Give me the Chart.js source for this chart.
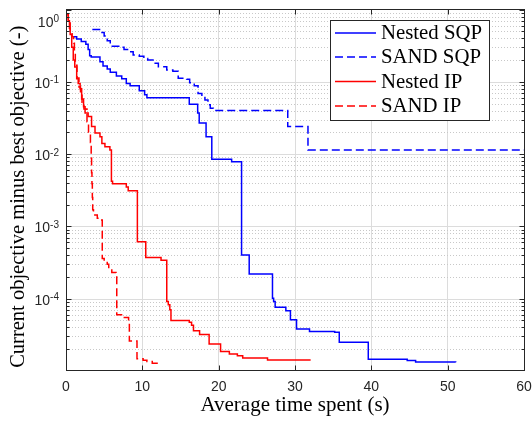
<!DOCTYPE html>
<html>
<head>
<meta charset="utf-8">
<script src="https://cdn.jsdelivr.net/npm/chart.js@4.4.0/dist/chart.umd.min.js"></script>
<style>
  body { margin: 0; background: #fff; }
  #wrap { width: 532px; height: 423px; }
</style>
</head>
<body>
<div id="wrap"><canvas id="chart" width="532" height="423"></canvas></div>
<script>
// convergence histories: time at which each new level is reached, and the level
const nestedSqpTime = [1.05, 1.4, 2.0, 2.6, 2.9, 3.1, 3.3, 4.45, 4.85, 5.4, 5.8, 6.6, 7.3, 7.9, 8.4, 9.6, 10.3, 10.6,
  16.15, 17.25, 17.45, 18.35, 19.1, 21.7, 23.0, 24.0, 27.05, 27.2, 27.4, 28.8, 29.4, 30.2, 31.9, 35.2, 35.8, 39.6,
  44.7, 45.8, 51.05];
const nestedSqpVal = [0.42, 0.39, 0.36, 0.33, 0.28, 0.23, 0.22, 0.19, 0.165, 0.15, 0.136, 0.12, 0.11, 0.095, 0.088,
  0.075, 0.066, 0.06, 0.049, 0.037, 0.027, 0.0174, 0.0085, 0.0078, 4.0e-4, 2.2e-4, 1.01e-4, 9.1e-5, 7.6e-5, 6.8e-5,
  5.1e-5, 3.8e-5, 3.5e-5, 3.42e-5, 2.5e-5, 1.45e-5, 1.39e-5, 1.33e-5, 1.32e-5];

const sandSqpTime = [3.45, 4.4, 5.0, 5.4, 5.8, 7.1, 7.6, 8.3, 8.8, 9.6, 10.2, 10.7, 11.4, 12.1, 13.2, 14.0, 14.7,
  15.8, 16.2, 16.8, 17.3, 17.8, 18.2, 18.6, 18.9, 19.3, 29.05, 31.7, 60];
const sandSqpVal = [0.53, 0.48, 0.43, 0.37, 0.31, 0.3, 0.28, 0.26, 0.235, 0.225, 0.21, 0.2, 0.18, 0.162, 0.146, 0.14,
  0.112, 0.108, 0.097, 0.088, 0.069, 0.062, 0.056, 0.048, 0.043, 0.04, 0.024, 0.0114, 0.0114];

const nestedIpTime = [0.1, 0.3, 0.45, 0.55, 0.75, 0.95, 1.15, 1.4, 1.6, 1.85, 2.05, 2.3, 2.5, 2.9, 3.35, 3.8, 4.45,
  4.7, 5.1, 5.75, 5.95, 6.1, 7.9, 8.15, 9.35, 10.45, 12.45, 13.2, 13.4, 13.6, 13.75, 16.15, 16.45, 16.7, 17.5, 18.75,
  20.25, 21.4, 22.45, 23.15, 26.4, 32.05];
const nestedIpVal = [0.85, 0.7, 0.55, 0.45, 0.3, 0.2, 0.16, 0.11, 0.095, 0.08, 0.058, 0.045, 0.037, 0.033, 0.024,
  0.0195, 0.0174, 0.014, 0.0126, 0.0114, 0.0042, 0.0039, 0.0035, 0.0031, 6.1e-4, 3.7e-4, 3.4e-4, 9.1e-5, 8.2e-5,
  7.0e-5, 5.0e-5, 4.7e-5, 4.3e-5, 3.6e-5, 3.2e-5, 2.36e-5, 1.85e-5, 1.72e-5, 1.62e-5, 1.51e-5, 1.42e-5, 1.42e-5];

const sandIpTime = [0.05, 0.3, 0.55, 0.8, 1.0, 1.1, 1.22, 1.44, 1.7, 1.9, 2.1, 2.35, 2.75, 2.95, 3.2, 3.3, 3.35, 3.4,
  3.45, 3.5, 3.6, 4.1, 4.68, 4.75, 5.0, 5.4, 5.6, 6.0, 6.55, 6.65, 7.4, 8.2, 8.3, 9.3, 10.1, 10.6, 11.3, 12.1];
const sandIpVal = [0.85, 0.65, 0.5, 0.42, 0.34, 0.25, 0.17, 0.113, 0.085, 0.065, 0.052, 0.042, 0.028, 0.02, 0.0145,
  0.0088, 0.0055, 0.0039, 0.0025, 0.0017, 0.00144, 0.00129, 0.00122, 3.6e-4, 3.3e-4, 3.0e-4, 2.6e-4, 2.3e-4, 2.1e-4,
  6.0e-5, 5.5e-5, 4.8e-5, 2.6e-5, 1.47e-5, 1.4e-5, 1.35e-5, 1.28e-5, 1.25e-5];

const seriesNames = ['Nested SQP', 'SAND SQP', 'Nested IP', 'SAND IP'];
const xTicks = [0, 10, 20, 30, 40, 50, 60];
const yDecades = [-5, -4, -3, -2, -1, 0];
const yMin = 1.03e-5;
const yMax = 1;
const yTitle = 'Current objective minus best objective (-)';

const AXIS = '#262626';
const SERIF = '"Liberation Serif", "Times New Roman", serif';
const SANS = '"Liberation Sans", Arial, sans-serif';

function toPoints(t, v) {
  return t.map((x, i) => ({ x: x, y: v[i] }));
}

function crisp(v) { return Math.round(v) + 0.5; }

// gridlines, box, ticks, y labels and legend drawn on top of the library's scales
const framePlugin = {
  id: 'frame',
  beforeDatasetsDraw(chart) {
    const ctx = chart.ctx, a = chart.chartArea, ys = chart.scales.y;
    ctx.save();
    ctx.lineWidth = 1;
    // minor (dotted) horizontal grid
    ctx.strokeStyle = '#c8c8c8';
    ctx.setLineDash([1, 2]);
    yDecades.forEach(e => {
      for (let m = 2; m <= 9; m++) {
        const v = m * Math.pow(10, e);
        if (v < yMin || v > yMax) continue;
        const y = crisp(ys.getPixelForValue(v));
        ctx.beginPath(); ctx.moveTo(a.left, y); ctx.lineTo(a.right, y); ctx.stroke();
      }
    });
    // major horizontal grid
    ctx.setLineDash([]);
    ctx.strokeStyle = '#dcdcdc';
    yDecades.forEach(e => {
      const v = Math.pow(10, e);
      if (v < yMin || v >= yMax) return;
      const y = crisp(ys.getPixelForValue(v));
      ctx.beginPath(); ctx.moveTo(a.left, y); ctx.lineTo(a.right, y); ctx.stroke();
    });
    ctx.restore();
  },
  afterDatasetsDraw(chart) {
    const ctx = chart.ctx, a = chart.chartArea, xs = chart.scales.x, ys = chart.scales.y;
    ctx.save();
    ctx.strokeStyle = AXIS;
    ctx.lineWidth = 1;
    const L = crisp(a.left - 0.5), R = crisp(a.right - 0.5), T = crisp(a.top - 0.5), B = crisp(a.bottom - 0.5);
    ctx.strokeRect(L, T, R - L, B - T);

    // x tick marks, bottom and top, pointing inward
    ctx.beginPath();
    xTicks.forEach(t => {
      const x = crisp(xs.getPixelForValue(t));
      ctx.moveTo(x, B); ctx.lineTo(x, B - 5);
      ctx.moveTo(x, T); ctx.lineTo(x, T + 5);
    });
    // y tick marks, left and right
    yDecades.forEach(e => {
      for (let m = 1; m <= 9; m++) {
        const v = m * Math.pow(10, e);
        if (v < yMin || v > yMax) continue;
        const y = crisp(ys.getPixelForValue(v));
        const len = m === 1 ? 5 : 3;
        ctx.moveTo(L, y); ctx.lineTo(L + len, y);
        ctx.moveTo(R, y); ctx.lineTo(R - len, y);
      }
    });
    ctx.stroke();

    // y tick labels as 10 with a raised exponent
    ctx.fillStyle = AXIS;
    ctx.textBaseline = 'alphabetic';
    ctx.textAlign = 'left';
    yDecades.forEach(e => {
      const v = Math.pow(10, e);
      if (v < yMin || v > yMax) return;
      let y = ys.getPixelForValue(v);
      y = Math.max(y, a.top + 11);
      const ex = String(e);
      ctx.font = '14px ' + SANS;
      const wb = ctx.measureText('10').width;
      ctx.font = '10px ' + SANS;
      const we = ctx.measureText(ex).width;
      const x0 = a.left - 7 - wb - we;
      ctx.font = '14px ' + SANS;
      ctx.fillText('10', x0, y + 6);
      ctx.font = '10px ' + SANS;
      ctx.fillText(ex, x0 + wb, y + 1.5);
    });

    // y axis title, rotated
    ctx.save();
    ctx.translate(18.3, (a.top + a.bottom) / 2 + 7);
    ctx.rotate(-Math.PI / 2);
    ctx.font = '20.5px ' + SERIF;
    ctx.fillStyle = '#000';
    ctx.textAlign = 'center';
    ctx.textBaseline = 'middle';
    ctx.fillText(yTitle, 0, 0);
    ctx.restore();

    // legend box in the upper right corner
    const bx = a.right - 35 - 159, by = a.top + 10.5, bw = 159, bh = 100;
    ctx.fillStyle = '#fff';
    ctx.fillRect(crisp(bx), crisp(by), bw, bh);
    ctx.strokeStyle = AXIS;
    ctx.strokeRect(crisp(bx), crisp(by), bw, bh);
    const rows = [13, 37, 61.5, 86];
    ctx.font = '20.8px ' + SERIF;
    ctx.textBaseline = 'middle';
    chart.data.datasets.forEach((ds, i) => {
      const y = by + rows[i];
      ctx.save();
      ctx.strokeStyle = ds.borderColor;
      ctx.lineWidth = ds.borderWidth;
      ctx.setLineDash(ds.borderDash || []);
      ctx.beginPath(); ctx.moveTo(bx + 5, y); ctx.lineTo(bx + 46, y); ctx.stroke();
      ctx.restore();
      ctx.fillStyle = '#000';
      ctx.fillText(ds.label, bx + 51, y + 1);
    });
    ctx.restore();
  }
};

const datasets = [
  { label: seriesNames[0], data: toPoints(nestedSqpTime, nestedSqpVal), borderColor: '#0000ff', borderDash: [] },
  { label: seriesNames[1], data: toPoints(sandSqpTime, sandSqpVal), borderColor: '#0000ff', borderDash: [8, 4] },
  { label: seriesNames[2], data: toPoints(nestedIpTime, nestedIpVal), borderColor: '#ff0000', borderDash: [] },
  { label: seriesNames[3], data: toPoints(sandIpTime, sandIpVal), borderColor: '#ff0000', borderDash: [8, 4] }
].map(d => Object.assign(d, { borderWidth: 1.5, pointRadius: 0, stepped: true, fill: false }));

new Chart(document.getElementById('chart'), {
  type: 'line',
  data: { datasets: datasets },
  plugins: [framePlugin],
  options: {
    responsive: false,
    animation: false,
    devicePixelRatio: 1,
    layout: { padding: { left: 0, right: 8, top: 9.5, bottom: 0 } },
    plugins: { legend: { display: false }, tooltip: { enabled: false } },
    scales: {
      x: {
        type: 'linear',
        min: 0,
        max: 60,
        afterBuildTicks: s => { s.ticks = xTicks.map(v => ({ value: v })); },
        afterFit: s => { s.height = 53; s.paddingLeft = 0; s.paddingRight = 0; },
        ticks: { color: AXIS, font: { family: SANS, size: 14 }, padding: 9, maxRotation: 0, autoSkip: false },
        grid: {
          drawTicks: false,
          color: '#dcdcdc',
          lineWidth: c => (c.tick && (c.tick.value === 0 || c.tick.value === 60)) ? 0 : 1
        },
        border: { display: false },
        title: {
          display: true,
          text: 'Average time spent (s)',
          color: '#000',
          font: { family: SERIF, size: 21 },
          padding: { top: 0, bottom: 5 }
        }
      },
      y: {
        type: 'logarithmic',
        min: yMin,
        max: yMax,
        afterFit: s => { s.width = 66; s.paddingTop = 0; s.paddingBottom = 0; },
        ticks: { display: false },
        grid: { display: false },
        border: { display: false },
        title: { display: false }
      }
    }
  }
});
</script>
</body>
</html>
